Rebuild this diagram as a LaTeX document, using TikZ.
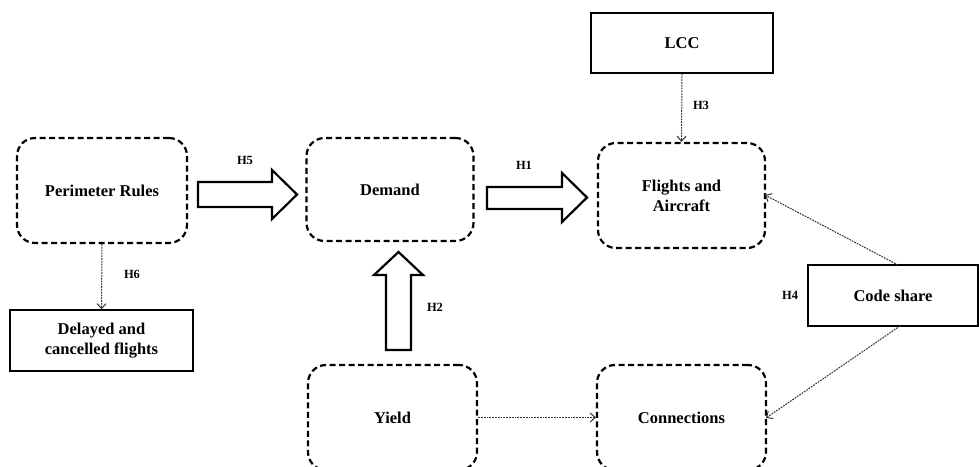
\documentclass[tikz,border=0pt]{standalone}
\usepackage{fontspec}
\setmainfont{Liberation Serif}
\usetikzlibrary{arrows.meta}
\begin{document}
\begin{tikzpicture}[x=1pt,y=-1pt,
  rbox/.style={draw, line width=2.2pt, dash pattern=on 6pt off 3.5pt, rounded corners=18pt, align=center, font=\fontsize{16.5}{20}\selectfont\bfseries, inner sep=0pt},
  sbox/.style={draw, line width=1.3pt, align=center, font=\fontsize{16.5}{20}\selectfont\bfseries, inner sep=0pt},
  hlab/.style={font=\fontsize{12.5}{13}\selectfont\bfseries, inner sep=0pt},
  dotarrow/.style={draw=black!80, line width=1pt, dash pattern=on 1.8pt off 1pt, -{Straight Barb[length=5pt,width=9pt]}},
  blockarrow/.style={draw, line width=2.2pt, fill=white, line join=miter}
]
\useasboundingbox (0,0) rectangle (979,466);
\node[rbox, minimum width=170pt, minimum height=105pt] (perim) at (102,190.5) {Perimeter Rules};
\node[sbox, minimum width=183pt, minimum height=61pt] (delay) at (101.5,340.5) {Delayed and\\cancelled flights};
\node[rbox, minimum width=167pt, minimum height=103pt] (demand) at (390,189.5) {Demand};
\node[rbox, minimum width=167pt, minimum height=105pt] (flights) at (681.5,195.5) {Flights and\\Aircraft};
\node[sbox, minimum width=182pt, minimum height=60pt] (lcc) at (682,43) {LCC};
\node[rbox, minimum width=169pt, minimum height=105pt] (yield) at (392.5,417.5) {Yield};
\node[rbox, minimum width=169pt, minimum height=105pt] (conn) at (681.5,417.5) {Connections};
\node[sbox, minimum width=170pt, minimum height=61pt] (code) at (893,295.5) {Code share};

% block arrows
\draw[blockarrow] (198,182) -- (272,182) -- (272,170) -- (297,194.5) -- (272,219) -- (272,207) -- (198,207) -- cycle;
\draw[blockarrow] (487,187) -- (562,187) -- (562,173) -- (587,197.5) -- (562,222) -- (562,209) -- (487,209) -- cycle;
\draw[blockarrow] (386,350) -- (386,275) -- (374,275) -- (398.5,252) -- (423,275) -- (411,275) -- (411,350) -- cycle;

% dotted arrows
\draw[dotarrow] (perim.south) -- (delay.north);
\draw[dotarrow] (lcc.south) -- (flights.north);
\draw[dotarrow] (yield.east) -- (conn.west);
\coordinate (codetop) at (898,265);
\coordinate (codebot) at (900,326);
\draw[dotarrow] (codetop) -- (765,195);
\draw[dotarrow] (codebot) -- (766,418);

% labels
\node[hlab] (h5) at (245,160) {H5};
\node[hlab] (h1) at (524,165) {H1};
\node[hlab] (h3) at (701,105) {H3};
\node[hlab] (h6) at (132,274) {H6};
\node[hlab] (h2) at (435,307) {H2};
\node[hlab] (h4) at (790,295) {H4};
\end{tikzpicture}
\end{document}
